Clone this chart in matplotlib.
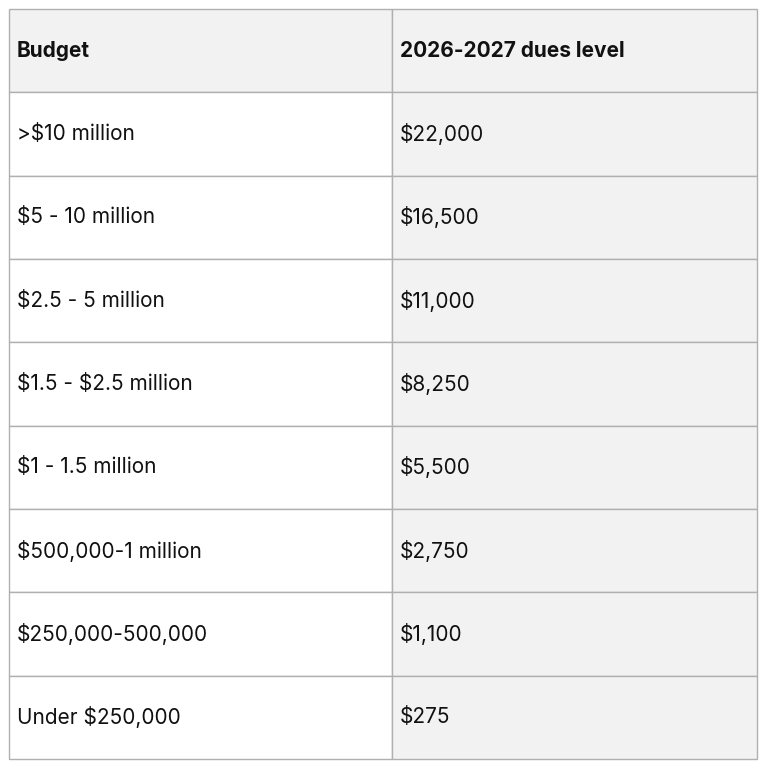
import matplotlib
matplotlib.use('Agg')
import matplotlib.pyplot as plt
from matplotlib.patches import Rectangle

plt.rcParams['text.parse_math'] = False

headers = ["Budget", "2026-2027 dues level"]
budgets = [">$10 million", "$5 - 10 million", "$2.5 - 5 million", "$1.5 - $2.5 million",
           "$1 - 1.5 million", "$500,000-1 million", "$250,000-500,000", "Under $250,000"]
dues = ["$22,000", "$16,500", "$11,000", "$8,250", "$5,500", "$2,750", "$1,100", "$275"]

fig = plt.figure(figsize=(7.68, 7.68), dpi=100)
ax = fig.add_axes([0, 0, 1, 1])
ax.set_xlim(0, 768)
ax.set_ylim(768, 0)
ax.axis('off')

left, mid, right = 9, 392, 757
top, bottom = 9, 759
nrows = len(budgets) + 1
rh = (bottom - top) / nrows
gray = '#f2f2f2'
line = '#b0b0b0'

rows = [headers] + list(zip(budgets, dues))
for i, (a, b) in enumerate(rows):
    y0 = top + i * rh
    c1 = gray if i == 0 else 'white'
    ax.add_patch(Rectangle((left, y0), mid - left, rh, facecolor=c1, edgecolor=line, lw=1))
    ax.add_patch(Rectangle((mid, y0), right - mid, rh, facecolor=gray, edgecolor=line, lw=1))
    weight = 'bold' if i == 0 else 'normal'
    yc = y0 + rh * 0.5
    ax.text(left + 8, yc, a, fontsize=15, fontweight=weight, va='center', ha='left',
            family='Inter', color='#111111')
    ax.text(mid + 8, yc, b, fontsize=15, fontweight=weight, va='center', ha='left',
            family='Inter', color='#111111')

fig.savefig('out.png', dpi=100)
